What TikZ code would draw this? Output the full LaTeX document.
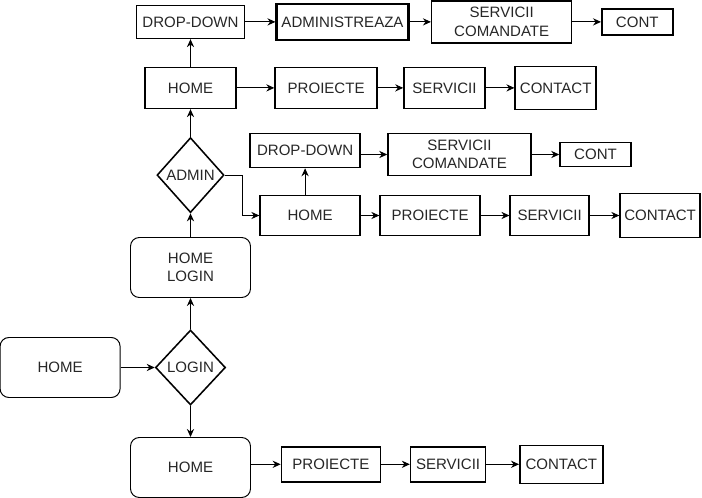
\documentclass[tikz,border=0pt]{standalone}
\usepackage{fontspec}
\setmainfont{Liberation Sans}
\usetikzlibrary{shapes.geometric, arrows.meta, positioning}
\tikzstyle{block} = [rectangle, draw, line width=1.1pt, align=center, minimum height=1cm, minimum width=2.5cm, inner sep=2pt]
\tikzstyle{page} = [rectangle, draw, rounded corners=0.22cm, line width=0.7pt, align=center, minimum height=1.5cm, minimum width=3cm]
\tikzstyle{decision} = [diamond, draw, line width=1.1pt, align=center, inner sep=0pt, minimum width=1.75cm, minimum height=1.875cm]
\tikzstyle{arrow} = [line width=0.7pt,-{Stealth[length=2mm,width=1.8mm]}]

\begin{document}
\begin{tikzpicture}[node distance=2.5cm, font=\fontsize{10.7}{13.2}\selectfont, text=black!85]
    \useasboundingbox (-4.7625,-3.2625) rectangle (12.7875,9.1875);

    % Login
    \node (login) [decision] {LOGIN};
    \node (home) [page, left of=login, xshift=-0.76cm] {HOME};
    \node (home_login) [page, above of=login] {HOME\\LOGIN};
    \node (home_user) [page, below of=login] {HOME};

    % Admin
    \node (admin) [decision, above of=home_login, yshift=-0.19cm, minimum width=1.675cm] {ADMIN};
    \node (home_admin) [block, above of=admin, yshift=-0.32cm, minimum width=2.275cm, minimum height=1.025cm] {HOME};
    \node (drop_admin) [block, above of=home_admin, yshift=-0.85cm, minimum width=2.7cm, minimum height=0.825cm] {DROP-DOWN};
    \node (administreaza) [block, right of=drop_admin, xshift=1.3cm, line width=1.5pt, minimum width=3.3cm, minimum height=0.9cm] {ADMINISTREAZA};
    \node (serv_com_admin) [block, right of=administreaza, xshift=1.48cm, minimum width=3.5cm, minimum height=1.05cm] {SERVICII\\COMANDATE};
    \node (cont_admin) [block, right of=serv_com_admin, xshift=0.89cm, minimum width=1.775cm, minimum height=0.65cm] {CONT};

    \node (proj_admin) [block, right of=home_admin, xshift=0.89cm, minimum width=2.55cm, minimum height=1.025cm] {PROIECTE};
    \node (serv_admin) [block, right of=proj_admin, xshift=0.46cm, minimum width=2.025cm, minimum height=1.025cm] {SERVICII};
    \node (contact_admin) [block, right of=serv_admin, xshift=0.28cm, minimum width=2.025cm, minimum height=1.075cm] {CONTACT};

    % Client
    \node (home_client) [block, right of=admin, xshift=0.49cm, yshift=-1.01cm] {HOME};
    \node (drop_client) [block, above of=home_client, yshift=-0.875cm, xshift=-0.125cm, minimum width=2.75cm, minimum height=0.85cm] {DROP-DOWN};
    \node (serv_com_client) [block, right of=drop_client, xshift=1.36cm, yshift=-0.1cm, minimum width=3.575cm, minimum height=1.05cm] {SERVICII\\COMANDATE};
    \node (cont_client) [block, right of=serv_com_client, xshift=0.9cm, minimum width=1.775cm, minimum height=0.6cm] {CONT};

    \node (proj_client) [block, right of=home_client, xshift=0.5cm] {PROIECTE};
    \node (serv_client) [block, right of=proj_client, xshift=0.49cm, minimum width=1.975cm] {SERVICII};
    \node (contact_client) [block, right of=serv_client, xshift=0.26cm, minimum width=2cm, minimum height=1.1cm] {CONTACT};

    % Guest
    \node (proj_guest) [block, right of=home_user, xshift=1.01cm, yshift=0.08cm, minimum width=2.475cm, minimum height=0.875cm] {PROIECTE};
    \node (serv_guest) [block, right of=proj_guest, xshift=0.43cm, minimum width=1.875cm, minimum height=0.875cm] {SERVICII};
    \node (contact_guest) [block, right of=serv_guest, xshift=0.33cm, minimum width=2.075cm, minimum height=0.95cm] {CONTACT};

    % ==== Arrows
    % Login
    \draw [arrow] (home) -- (login);
    \draw [arrow] (login) -- (home_login);
    \draw [arrow] (login) -- (home_user);
    \draw [arrow] (home_login) -- (admin);

    % Admin
    \draw [arrow] (admin) -- (home_admin);
    \draw [arrow] (home_admin) -- (drop_admin);
    \draw [arrow] (drop_admin) -- (administreaza);
    \draw [arrow] (administreaza) -- (serv_com_admin);
    \draw [arrow] (serv_com_admin) -- (cont_admin);
    \draw [arrow] (home_admin) -- (proj_admin);
    \draw [arrow] (proj_admin) -- (serv_admin);
    \draw [arrow] (serv_admin) -- (contact_admin);

    % Client
    \draw [arrow] (admin.east) -- ++(0.45,0) |- (home_client.west);
    \draw [arrow] (home_client.north -| drop_client) -- (drop_client);
    \draw [arrow] (drop_client.east |- serv_com_client) -- (serv_com_client);
    \draw [arrow] (serv_com_client) -- (cont_client);
    \draw [arrow] (home_client) -- (proj_client);
    \draw [arrow] (proj_client) -- (serv_client);
    \draw [arrow] (serv_client) -- (contact_client);

    % Guest
    \draw [arrow] (home_user.east |- proj_guest) -- (proj_guest);
    \draw [arrow] (proj_guest) -- (serv_guest);
    \draw [arrow] (serv_guest) -- (contact_guest);

\end{tikzpicture}
\end{document}
